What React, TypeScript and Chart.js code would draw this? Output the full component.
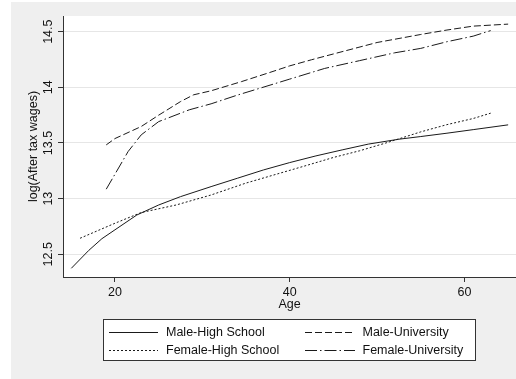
import React, { useEffect, useRef } from 'react';
import { Chart, registerables } from 'chart.js';

Chart.register(...registerables);

// ---- Data ----
const ageMaleHS = [15, 17, 18.5, 20, 22.5, 25, 27.5, 31, 34, 37, 40, 43, 46, 49, 52.5, 55, 58, 61, 65];
const valMaleHS = [12.374, 12.535, 12.64, 12.72, 12.853, 12.943, 13.018, 13.108, 13.183, 13.258, 13.324, 13.384, 13.438, 13.49, 13.534, 13.558, 13.588, 13.62, 13.663];

const ageFemaleHS = [16, 20, 23, 27, 31, 35, 38.5, 42, 45, 48, 51, 55, 58, 61, 63];
const valFemaleHS = [12.644, 12.779, 12.875, 12.943, 13.033, 13.14, 13.22, 13.3, 13.37, 13.43, 13.5, 13.6, 13.665, 13.72, 13.768];

const ageMaleUni = [19, 20, 23, 25, 27.5, 29, 31, 34.5, 37.5, 40, 42.5, 45, 50, 55, 58, 61, 65];
const valMaleUni = [13.483, 13.54, 13.648, 13.75, 13.872, 13.933, 13.969, 14.052, 14.128, 14.193, 14.248, 14.3, 14.403, 14.475, 14.515, 14.55, 14.568];

const ageFemaleUni = [19, 20, 21.5, 23, 25, 28.5, 31, 34, 36.5, 40, 44, 48, 52, 55, 58, 61, 63];
const valFemaleUni = [13.085, 13.22, 13.423, 13.573, 13.692, 13.798, 13.852, 13.93, 13.99, 14.074, 14.17, 14.24, 14.31, 14.35, 14.41, 14.46, 14.51];

const seriesLabels = ['Male-High School', 'Male-University', 'Female-High School', 'Female-University'];
const xTicks = [20, 40, 60];
const yTicks = [12.5, 13, 13.5, 14, 14.5];
const xTitle = 'Age';
const yTitle = 'log(After tax wages)';

const FONT_FAMILY = '"Liberation Sans", Arial, Helvetica, sans-serif';
const FONT_SIZE = 12.5;
const INK = '#111111';
const LINE = '#1a1a1a';

const pts = (xs: number[], ys: number[]) => xs.map((x, i) => ({ x, y: ys[i] }));

const bgPlugin = {
  id: 'bgPlugin',
  beforeDraw(chart: any) {
    const { ctx, chartArea: a } = chart;
    ctx.save();
    ctx.fillStyle = '#ffffff';
    ctx.fillRect(0, 0, chart.width, chart.height);
    ctx.fillStyle = '#efefef';
    ctx.fillRect(11, 2, chart.width - 11, chart.height - 2);
    ctx.fillStyle = '#ffffff';
    ctx.fillRect(a.left, a.top, a.right - a.left, a.bottom - a.top);
    ctx.restore();
  },
};

const yLabelPlugin = {
  id: 'yLabelPlugin',
  afterDraw(chart: any) {
    const { ctx } = chart;
    const ys = chart.scales.y;
    ctx.save();
    ctx.font = `${FONT_SIZE}px ${FONT_FAMILY}`;
    ctx.fillStyle = INK;
    ctx.textAlign = 'center';
    ctx.textBaseline = 'middle';
    for (const v of yTicks) {
      const y = ys.getPixelForValue(v);
      ctx.save();
      ctx.translate(49, y);
      ctx.rotate(-Math.PI / 2);
      ctx.fillText(String(v), 0, 0);
      ctx.restore();
    }
    ctx.restore();
  },
};

const legendPlugin = {
  id: 'boxLegend',
  afterDraw(chart: any) {
    const { ctx } = chart;
    const bx = 103.5, by = 319.5, bw = 372, bh = 41;
    ctx.save();
    ctx.fillStyle = '#ffffff';
    ctx.fillRect(bx, by, bw, bh);
    ctx.strokeStyle = '#333333';
    ctx.lineWidth = 1;
    ctx.strokeRect(bx, by, bw, bh);
    const sampleX = [109, 305];
    const sampleW = [49, 50];
    const textX = [166, 362.5];
    const rowY = [332.5, 350.5];
    ctx.font = `${FONT_SIZE}px ${FONT_FAMILY}`;
    ctx.textAlign = 'left';
    ctx.textBaseline = 'middle';
    chart.data.datasets.forEach((ds: any, i: number) => {
      const col = i % 2;
      const row = Math.floor(i / 2);
      ctx.strokeStyle = ds.borderColor;
      ctx.lineWidth = ds.borderWidth;
      ctx.setLineDash(ds.borderDash || []);
      ctx.beginPath();
      ctx.moveTo(sampleX[col], rowY[row]);
      ctx.lineTo(sampleX[col] + sampleW[col], rowY[row]);
      ctx.stroke();
      ctx.setLineDash([]);
      ctx.fillStyle = INK;
      ctx.fillText(ds.label, textX[col], rowY[row] + 0.5);
    });
    ctx.restore();
  },
};

export default function App() {
  const ref = useRef<HTMLCanvasElement | null>(null);

  useEffect(() => {
    if (!ref.current) return;
    const font = { family: FONT_FAMILY, size: FONT_SIZE };
    const mk = (label: string, data: any[], dash: number[]) => ({
      label,
      data,
      borderColor: LINE,
      borderWidth: 1,
      borderDash: dash,
      pointRadius: 0,
      fill: false,
      tension: 0,
    });
    const chart = new Chart(ref.current, {
      type: 'line',
      data: {
        datasets: [
          mk(seriesLabels[0], pts(ageMaleHS, valMaleHS), []),
          mk(seriesLabels[1], pts(ageMaleUni, valMaleUni), [7, 3]),
          mk(seriesLabels[2], pts(ageFemaleHS, valFemaleHS), [2, 2]),
          mk(seriesLabels[3], pts(ageFemaleUni, valFemaleUni), [12, 3, 1.5, 3]),
        ],
      },
      options: {
        responsive: false,
        maintainAspectRatio: false,
        animation: false,
        layout: { padding: { top: 16, left: 0, right: 0, bottom: 0 } },
        plugins: { legend: { display: false }, tooltip: { enabled: false } },
        scales: {
          x: {
            type: 'linear',
            min: 14.05,
            max: 65.9,
            afterBuildTicks: (s: any) => {
              s.ticks = xTicks.map((v) => ({ value: v }));
            },
            afterFit: (s: any) => {
              s.height = 102;
            },
            grid: { drawOnChartArea: false, tickLength: 5, tickColor: '#333333' },
            border: { color: '#333333', width: 1 },
            ticks: { font, color: INK, padding: 3, maxRotation: 0, autoSkip: false },
            title: { display: true, text: xTitle, font, color: INK, padding: { top: 0, bottom: 66.5 } },
          },
          y: {
            type: 'linear',
            min: 12.296,
            max: 14.641,
            afterBuildTicks: (s: any) => {
              s.ticks = yTicks.map((v) => ({ value: v }));
            },
            afterFit: (s: any) => {
              s.width = 63;
            },
            grid: { color: '#e6e6e6', tickLength: 5, tickColor: '#333333' },
            border: { color: '#333333', width: 1 },
            ticks: { display: false },
            title: { display: true, text: yTitle, font, color: INK, padding: { top: 26.5, bottom: 0 } },
          },
        },
      },
      plugins: [bgPlugin, yLabelPlugin, legendPlugin],
    } as any);
    return () => chart.destroy();
  }, []);

  return (
    <div style={{ position: 'fixed', left: 0, top: 0, width: 516, height: 379 }}>
      <canvas ref={ref} width={516} height={379} style={{ display: 'block' }} />
    </div>
  );
}
